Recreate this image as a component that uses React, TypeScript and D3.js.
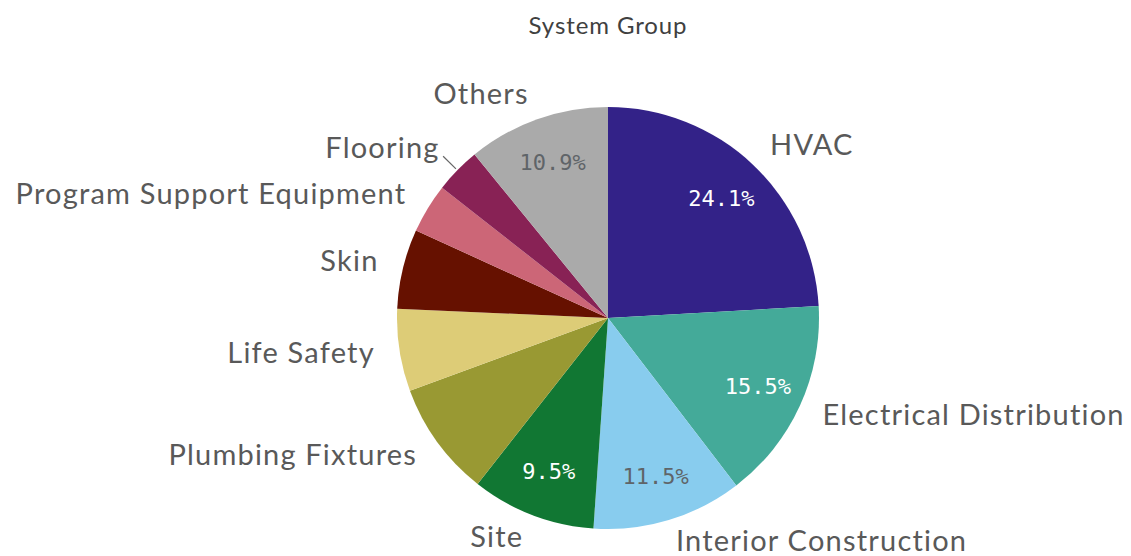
import * as d3 from "d3";

const categories = [
  "HVAC",
  "Electrical Distribution",
  "Interior Construction",
  "Site",
  "Plumbing Fixtures",
  "Life Safety",
  "Skin",
  "Program Support Equipment",
  "Flooring",
  "Others",
];
const shares = [24.1, 15.5, 11.5, 9.5, 8.8, 6.3, 6.1, 3.8, 3.5, 10.9];
const colors = [
  "#332288",
  "#44aa99",
  "#88ccee",
  "#117733",
  "#999933",
  "#ddcc77",
  "#661100",
  "#cc6677",
  "#882255",
  "#aaaaaa",
];
const darkText = new Set(["Interior Construction", "Others"]);

const W = 1131;
const H = 556;
const cx = 608;
const cy = 318;
const R = 211;

export default function App() {
  const data = categories.map((name, i) => ({ name, value: shares[i], color: colors[i] }));
  const pie = d3.pie<any>().value(d => d.value).sort(null);
  const arcs = pie(data);
  const arc = d3.arc<any>().innerRadius(0).outerRadius(R);
  const inner = d3.arc<any>().innerRadius(165).outerRadius(165);

  // point on a circle, angle measured clockwise from 12 o'clock
  const polar = (a: number, r: number) => [Math.sin(a) * r, -Math.cos(a) * r];

  return (
    <svg width={W} height={H} style={{ position: "absolute", left: 0, top: 0, background: "#fff" }}>
      <text x={cx} y={24} textAnchor="middle" dominantBaseline="central"
        style={{ font: "24px Lato", fill: "#404040", letterSpacing: "0.9px" }}>System Group</text>
      <g transform={`translate(${cx},${cy})`}>
        {arcs.map((a, i) => (
          <path key={i} d={arc(a)!} fill={a.data.color} />
        ))}
        {arcs.filter(a => a.data.value >= 9).map((a, i) => {
          const [x, y] = inner.centroid(a);
          return (
            <text key={"p" + i} x={x} y={y} textAnchor="middle" dominantBaseline="central"
              style={{ font: "22px 'DejaVu Sans Mono'", fill: darkText.has(a.data.name) ? "#5f6468" : "#fff" }}>
              {a.data.value.toFixed(1)}%
            </text>
          );
        })}
        {arcs.map((a, i) => {
          const mid = (a.startAngle + a.endAngle) / 2;
          const small = a.data.value < 3.6;
          const [x, y] = polar(mid, 236);
          const right = mid < Math.PI;
          const [lx1, ly1] = polar(mid, 213);
          const [lx2, ly2] = polar(mid, 231);
          // keep the lowest labels inside the frame
          const ty = Math.min(y - (small ? 6 : 3), H - cy - 17);
          return (
            <g key={"l" + i}>
              {small && <line x1={lx1} y1={ly1} x2={lx2} y2={ly2} stroke="#666" strokeWidth={1.2} />}
              <text x={x} y={ty} textAnchor={right ? "start" : "end"}
                dominantBaseline="central"
                style={{ font: "29px Lato", fill: "#595959", letterSpacing: "1.2px" }}>
                {a.data.name}
              </text>
            </g>
          );
        })}
      </g>
    </svg>
  );
}
